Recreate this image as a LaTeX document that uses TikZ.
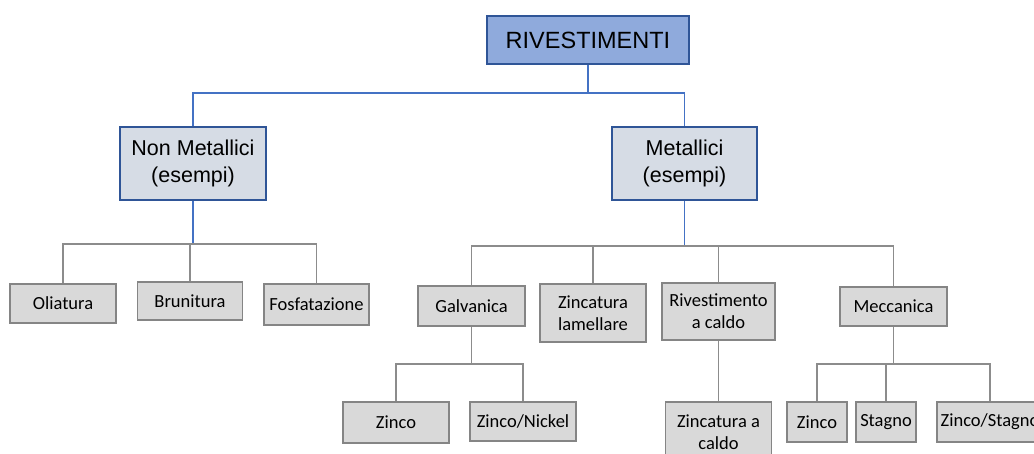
\documentclass[tikz,border=0pt]{standalone}
\usepackage{fontspec}
\setmainfont{Liberation Sans}
\newfontfamily\calibri{Carlito}
\usepackage{tikz}

\definecolor{topfill}{HTML}{8FAADC}
\definecolor{groupfill}{HTML}{D6DCE5}
\definecolor{itemfill}{HTML}{D9D9D9}
\definecolor{boxblue}{HTML}{2F5597}
\definecolor{itemgray}{HTML}{858585}
\definecolor{linkblue}{HTML}{4472C4}
\definecolor{linkgray}{HTML}{8C8C8C}

\tikzset{
    topbox/.style={draw=boxblue, fill=topfill, line width=2pt, minimum width=202pt, minimum height=48pt,
        font=\fontsize{23.5}{27}\selectfont},
    groupbox/.style={draw=boxblue, fill=groupfill, line width=2pt, align=center, minimum height=73pt,
        font=\fontsize{21.5}{27}\selectfont},
    itembox/.style={draw=itemgray, fill=itemfill, line width=1.8pt, align=center, inner sep=2pt,
        minimum width=106pt, minimum height=40pt, font=\calibri\fontsize{18.5}{22}\selectfont},
    bluelink/.style={draw=linkblue, line width=1.5pt},
    graylink/.style={draw=linkgray, line width=1.5pt}
}

\begin{document}
\begin{tikzpicture}[x=1pt,y=-1pt]
    \useasboundingbox (0,0) rectangle (1034,453);
    \clip (0,0) rectangle (1034,453);

    \node[topbox] (riv) at (588,40) {RIVESTIMENTI};
    \node[groupbox, minimum width=146pt] (nonmet) at (193,163.5) {Non Metallici\\(esempi)};
    \node[groupbox, minimum width=145pt] (met) at (684.5,163.5) {Metallici\\(esempi)};

    \node[itembox, minimum height=39pt] (oli) at (63,303.5) {Oliatura};
    \node[itembox, minimum width=105pt, minimum height=38pt] (bru) at (190,301) {Brunitura};
    \node[itembox, minimum width=105pt, minimum height=41pt] (fos) at (316.5,304.5) {Fosfatazione};

    \node[itembox, minimum width=107pt] (galv) at (471.5,306) {Galvanica};
    \node[itembox, minimum height=58pt] (zlam) at (593,313) {Zincatura\\lamellare};
    \node[itembox, minimum width=113pt, minimum height=57pt] (rcaldo) at (718.5,311.5) {Rivestimento\\a caldo};
    \node[itembox, minimum width=107pt, minimum height=39pt] (mecc) at (893.5,306.5) {Meccanica};

    \node[itembox, minimum height=41pt] (zgalv) at (396,422.5) {Zinco};
    \node[itembox, minimum height=39pt] (znickel) at (523,421.5) {Zinco/Nickel};
    \node[itembox, minimum height=60pt] (zcaldo) at (718.5,432) {Zincatura a\\caldo};
    \node[itembox, minimum width=60pt] (zmecc) at (817,422) {Zinco};
    \node[itembox, minimum width=60pt] (stagno) at (886,422) {Stagno};
    \node[itembox] (zstagno) at (990,422) {Zinco/Stagno};

    \draw[bluelink] (riv.south) -- ++(0,28) coordinate (busA);
    \draw[bluelink] (nonmet.north) |- (busA) -| (met.north);

    \draw[bluelink] (nonmet.south) -- ++(0,43) coordinate (busB);
    \draw[graylink] (oli.north) |- (busB) -| (fos.north);
    \draw[graylink] (bru.north) -- (bru.north |- busB);

    \draw[bluelink] (met.south) -- ++(0,45) coordinate (busC);
    \draw[graylink] (galv.north) |- (busC) -| (mecc.north);
    \draw[graylink] (zlam.north) -- (zlam.north |- busC);
    \draw[graylink] (rcaldo.north) -- (rcaldo.north |- busC);

    \draw[graylink] (galv.south) -- ++(0,37) coordinate (busD);
    \draw[graylink] (zgalv.north) |- (busD) -| (znickel.north);
    \draw[graylink] (rcaldo.south) -- (zcaldo.north);

    \draw[graylink] (mecc.south) -- ++(0,37) coordinate (busE);
    \draw[graylink] (zmecc.north) |- (busE) -| (zstagno.north);
    \draw[graylink] (stagno.north) -- (stagno.north |- busE);
\end{tikzpicture}
\end{document}
